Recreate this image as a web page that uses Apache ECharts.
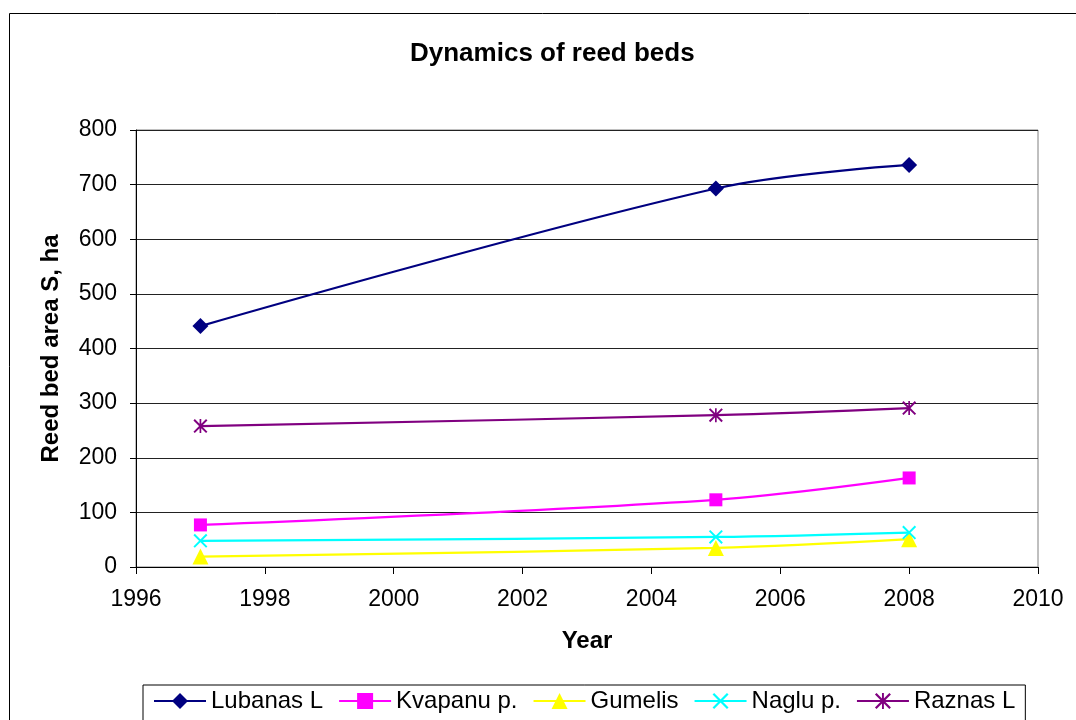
<!DOCTYPE html>
<html>
<head>
<meta charset="utf-8">
<script src="https://cdn.jsdelivr.net/npm/echarts@6/dist/echarts.min.js"></script>
<style>
  html, body { margin: 0; padding: 0; background: #fff; }
  #main { width: 1076px; height: 720px; }
</style>
</head>
<body>
<div id="main"></div>
<script>
var years = [1997, 2005, 2008];
var lubanas = [441, 693, 736];
var kvapanu = [77, 123, 163];
var gumelis = [19, 35, 51];
var naglu = [48, 55, 63];
var raznas = [258, 278, 291];
var xTicks = [1996, 1998, 2000, 2002, 2004, 2006, 2008, 2010];
var yTicks = [0, 100, 200, 300, 400, 500, 600, 700, 800];

var crossPath = 'path://M0,1L1,0L10,9L9,10ZM9,0L10,1L1,10L0,9Z';
var starPath = 'path://M0,1L1,0L10,9L9,10ZM9,0L10,1L1,10L0,9ZM4.4,0L5.6,0L5.6,10L4.4,10Z';

function pairs(vals) {
    return years.map(function (y, i) { return [y, vals[i]]; });
}

function makeSeries(name, vals, color, symbol, size) {
    return {
        name: name,
        type: 'line',
        data: pairs(vals),
        smooth: 0.35,
        symbol: symbol,
        symbolSize: size,
        showAllSymbol: true,
        lineStyle: { color: color, width: 2.2 },
        itemStyle: { color: color },
        emphasis: { disabled: true }
    };
}

var chart = echarts.init(document.getElementById('main'));
var font = '"Liberation Sans", Arial, sans-serif';

var option = {
    animation: false,
    backgroundColor: '#fff',
    textStyle: { fontFamily: font },
    title: {
        text: 'Dynamics of reed beds',
        left: 405,
        top: 36,
        textStyle: { fontFamily: font, fontSize: 26, fontWeight: 'bold', color: '#000' }
    },
    grid: { left: 136, right: 38, top: 130, bottom: 153, show: true, borderColor: '#808080', borderWidth: 1 },
    xAxis: {
        type: 'value',
        min: xTicks[0],
        max: xTicks[xTicks.length - 1],
        interval: 2,
        name: 'Year',
        nameLocation: 'middle',
        nameGap: 62,
        nameTextStyle: { fontFamily: font, fontSize: 24, fontWeight: 'bold', color: '#000' },
        axisLine: { lineStyle: { color: '#000', width: 1 } },
        axisTick: { show: true, inside: false, length: 7, lineStyle: { color: '#000' } },
        axisLabel: {
            fontFamily: font, fontSize: 23, color: '#000', margin: 21,
            formatter: function (v) { return String(v); }
        },
        splitLine: { show: false }
    },
    yAxis: {
        type: 'value',
        min: yTicks[0],
        max: yTicks[yTicks.length - 1],
        interval: 100,
        name: 'Reed bed area S, ha',
        nameLocation: 'middle',
        nameGap: 73,
        nameTextStyle: { fontFamily: font, fontSize: 24, fontWeight: 'bold', color: '#000' },
        axisLine: { show: true, lineStyle: { color: '#000', width: 1 } },
        axisTick: { show: true, inside: false, length: 6, lineStyle: { color: '#000' } },
        axisLabel: { fontFamily: font, fontSize: 23, color: '#000', margin: 19 },
        splitLine: { show: true, lineStyle: { color: '#222', width: 1 } }
    },
    legend: {
        left: 143,
        top: 685,
        width: 882,
        padding: [4, 10, 14, 10],
        itemGap: 15,
        itemWidth: 52,
        itemHeight: 20,
        borderColor: '#000',
        borderWidth: 1,
        textStyle: { fontFamily: font, fontSize: 24, color: '#000' },
        data: ['Lubanas L', 'Kvapanu p.', 'Gumelis', 'Naglu p.', 'Raznas L']
    },
    graphic: [
        { type: 'line', shape: { x1: 9.5, y1: 13.5, x2: 1076, y2: 13.5 }, style: { stroke: '#000', lineWidth: 1 }, silent: true },
        { type: 'line', shape: { x1: 9.5, y1: 13.5, x2: 9.5, y2: 720 }, style: { stroke: '#000', lineWidth: 1 }, silent: true }
    ],
    series: [
        makeSeries('Lubanas L', lubanas, '#000080', 'diamond', 16),
        makeSeries('Kvapanu p.', kvapanu, '#FF00FF', 'rect', 13),
        makeSeries('Gumelis', gumelis, '#FFFF00', 'triangle', 16),
        makeSeries('Naglu p.', naglu, '#00FFFF', crossPath, 14),
        makeSeries('Raznas L', raznas, '#800080', starPath, 14)
    ]
};

chart.setOption(option);
</script>
</body>
</html>
